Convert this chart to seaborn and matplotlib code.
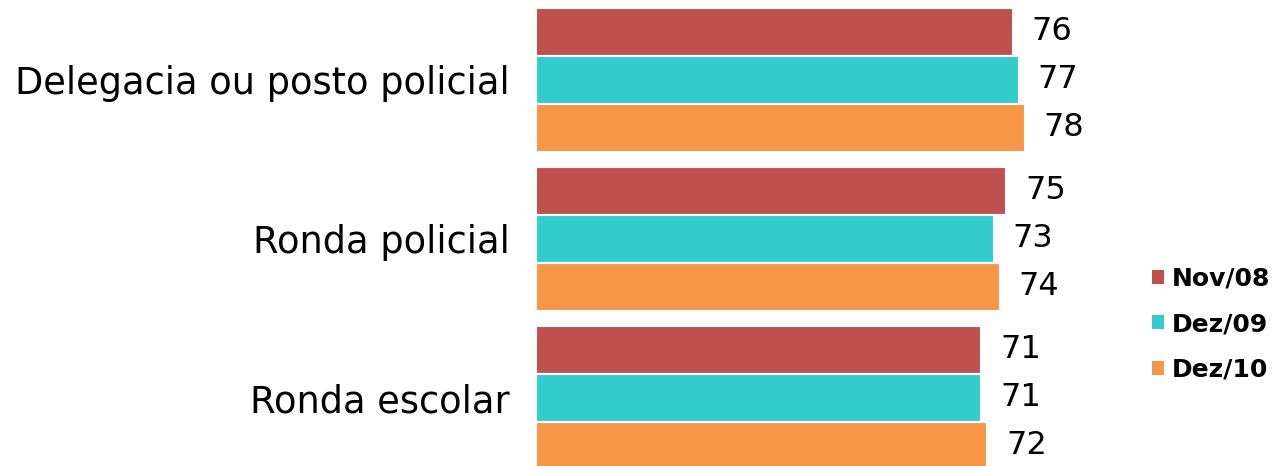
import matplotlib
matplotlib.use("Agg")
import matplotlib.pyplot as plt
import seaborn as sns
import pandas as pd
from matplotlib.patches import Patch

categories = ["Delegacia ou posto policial", "Ronda policial", "Ronda escolar"]
series = ["Nov/08", "Dez/09", "Dez/10"]
nov08 = [76, 75, 71]
dez09 = [77, 73, 71]
dez10 = [78, 74, 72]
colors = ["#C0504D", "#33CCCC", "#F79646"]

rows = []
for s, vals in zip(series, [nov08, dez09, dez10]):
    for c, v in zip(categories, vals):
        rows.append({"cat": c, "serie": s, "val": v})
df = pd.DataFrame(rows)

sns.set_style("white")
plt.rcParams['font.family'] = ['DejaVu Sans']

fig = plt.figure(figsize=(12.8, 4.66), dpi=100)
ax = fig.add_axes([536/1280, 0, (1140-536)/1280, 1])

sns.barplot(data=df, y="cat", x="val", hue="serie", orient="h",
            palette=colors, width=0.906, ax=ax, edgecolor="white",
            linewidth=1.5, legend=False, saturation=1)

for cont in ax.containers:
    ax.bar_label(cont, fmt="%d", padding=13.5, fontsize=23, color="black")

ax.set_xlim(0, (1140-536)/6.27)
ax.set_ylim(2.428, -0.503)
ax.set_xlabel("")
ax.set_ylabel("")
ax.set_xticks([])
ax.tick_params(axis="y", length=0, pad=19, labelsize=26.5, labelcolor="black")
for sp in ax.spines.values():
    sp.set_visible(False)

handles = [Patch(facecolor=c, edgecolor="none") for c in colors]
leg = fig.legend(handles, series, loc="center left",
                 bbox_to_anchor=(1152/1280, 1 - 324/466),
                 frameon=False, prop={"weight": "bold", "size": 18},
                 borderpad=0, borderaxespad=0,
                 handlelength=0.48, handleheight=0.48, handletextpad=0.32,
                 labelspacing=0.86)
for t in leg.get_texts():
    t.set_color("black")

fig.savefig("out.png", dpi=100)
